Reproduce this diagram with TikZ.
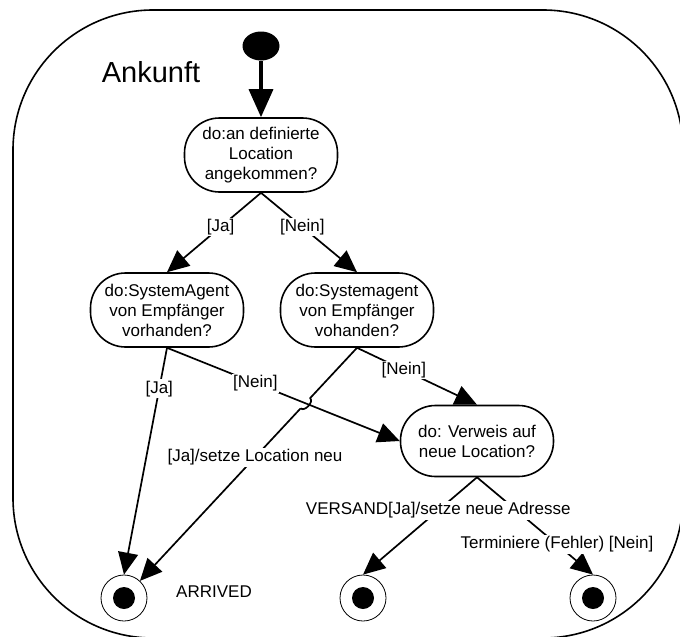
\documentclass[tikz,border=0pt]{standalone}
\usepackage{fontspec}
\setmainfont{Liberation Sans}
\usetikzlibrary{arrows.meta,shapes.geometric,calc,intersections}
\begin{document}
\begin{tikzpicture}[x=1pt,y=-1pt,
  state/.style={draw, line width=1.6pt, rounded corners=35pt, minimum width=153pt, minimum height=74pt, align=center, font=\fontsize{17}{20}\selectfont, inner sep=0pt},
  edge/.style={line width=1.7pt, -{Triangle[length=22pt,width=20pt]}},
  plainedge/.style={line width=1.7pt},
  lbl/.style={fill=white, inner sep=1.5pt, font=\fontsize{17}{20}\selectfont},
  final/.style={circle, draw, line width=0.8pt, minimum size=46pt, inner sep=0pt, path picture={\fill (path picture bounding box.center) circle (11pt);}},
  initstate/.style={ellipse, fill=black, minimum width=37pt, minimum height=29pt, inner sep=0pt}
]
\useasboundingbox (0,0) rectangle (680,637);
\clip (0,0) rectangle (680,637);
\draw[line width=1.6pt, rounded corners=140pt] (13,10) rectangle (683,638);
\node[font=\fontsize{29}{32}\selectfont] (title) at (151,72) {Ankunft};

\node[initstate] (init) at (261,46) {};
\node[state] (a) at (261,155) {do:an definierte\\Location\\angekommen?};
\node[state] (b) at (167,310) {do:SystemAgent\\von Empfänger\\vorhanden?};
\node[state] (c) at (357,310) {do:Systemagent\\von Empfänger\\vohanden?};
\node[state, minimum height=71pt] (d) at (477,441) {do: Verweis auf\\neue Location?};
\node[final] (f1) at (124,598) {};
\node[final] (f2) at (363,598) {};
\node[final] (f3) at (593,598) {};
\node[lbl, fill=none] (arr) at (214,592) {ARRIVED};

\draw[line width=3.5pt, -{Triangle[length=28pt,width=24pt]}] (init.south) -- (a.north);

\draw[edge] (a.south) -- (b.north) node[lbl, pos=0.43] {[Ja]};
\draw[edge] (a.south) -- (c.north) node[lbl, pos=0.43] {[Nein]};
\draw[edge] (b.south) -- (f1.north) node[lbl, pos=0.18] {[Ja]};

% crossing of B->D and C->F1 with hop
\path[name path=bd] (b.south) -- (d.west);
\path[name path=cf] (c.south) -- (f1);
\path[name intersections={of=bd and cf, by=X}];
\draw[edge] (b.south) -- (d.west) node[lbl, pos=0.38] {[Nein]};
\draw[plainedge] (c.south) -- ($(X)!7pt!(c.south)$) to[bend left=90] ($(X)!7pt!(f1)$);
\draw[edge] ($(X)!7pt!(f1)$) -- (f1);
\path (c.south) -- (f1) node[lbl, pos=0.47] {[Ja]/setze Location neu};

\draw[edge] (c.south) -- (d.north) node[lbl, pos=0.39] {[Nein]};
\draw[edge] (d.south) -- (f3.north) node[lbl, pos=0.69] {Terminiere (Fehler) [Nein]};
\draw[edge] (d.south) -- (f2.north) node[lbl, pos=0.34] {VERSAND[Ja]/setze neue Adresse};
\end{tikzpicture}
\end{document}
